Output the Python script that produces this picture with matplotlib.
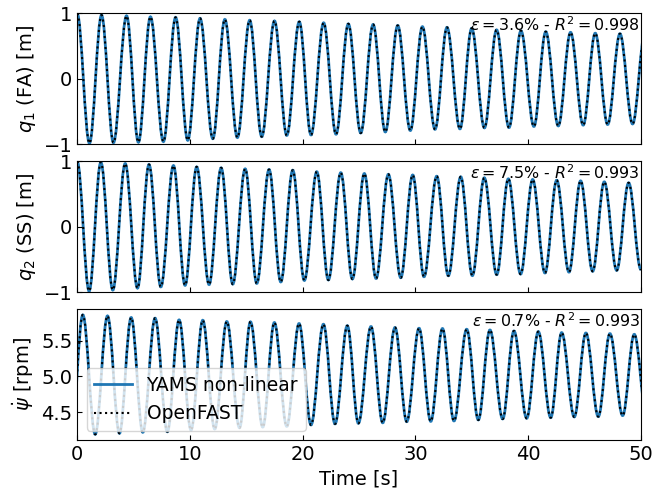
import matplotlib
matplotlib.use('Agg')
import matplotlib.pyplot as plt
from matplotlib.path import Path
from matplotlib.patches import PathPatch
from matplotlib.lines import Line2D

plt.rcParams.update({
    'font.size': 14,
    'xtick.direction': 'in',
    'ytick.direction': 'in',
})

# extrema (time [s], value)
q1_peak_t = [0.0, 2.16, 4.38, 6.5, 8.73, 10.9, 13.1, 15.3, 17.5, 19.7, 21.86, 24.05,
             26.25, 28.43, 30.62, 32.8, 34.99, 37.2, 39.36, 41.56, 43.76, 45.95, 48.14, 50.35]
q1_peak_v = [1.0, 0.974, 0.963, 0.948, 0.939, 0.924, 0.908, 0.895, 0.885, 0.872, 0.856, 0.84,
             0.83, 0.815, 0.797, 0.786, 0.771, 0.748, 0.734, 0.72, 0.71, 0.697, 0.689, 0.685]
q1_trough_t = [1.09, 3.22, 5.43, 7.65, 9.81, 12.03, 14.21, 16.37, 18.59, 20.74, 22.96, 25.15,
               27.33, 29.55, 31.74, 33.95, 36.12, 38.3, 40.51, 42.67, 44.88, 47.05, 49.26]
q1_trough_v = [-0.985, -0.976, -0.97, -0.96, -0.94, -0.915, -0.898, -0.884, -0.865, -0.858, -0.847, -0.828,
               -0.812, -0.79, -0.772, -0.765, -0.75, -0.745, -0.728, -0.72, -0.708, -0.698, -0.69]

q2_peak_t = [0.0, 2.1, 4.26, 6.37, 8.54, 10.6, 12.77, 14.9, 17.02, 19.12, 21.25, 23.38,
             25.47, 27.6, 29.76, 31.89, 34.02, 36.11, 38.24, 40.4, 42.53, 44.65, 46.75, 48.91]
q2_peak_v = [1.0, 0.985, 0.965, 0.95, 0.934, 0.914, 0.899, 0.884, 0.873, 0.863, 0.84, 0.825,
             0.812, 0.8, 0.79, 0.771, 0.762, 0.747, 0.731, 0.721, 0.71, 0.7, 0.685, 0.67]
q2_trough_t = [1.06, 3.16, 5.35, 7.42, 9.57, 11.7, 13.8, 15.93, 18.06, 20.15, 22.28, 24.41,
               26.51, 28.7, 30.76, 32.92, 35.05, 37.21, 39.33, 41.49, 43.62, 45.72, 47.85, 50.0]
q2_trough_v = [-0.985, -0.969, -0.94, -0.92, -0.897, -0.885, -0.878, -0.867, -0.845, -0.822, -0.815, -0.8,
               -0.792, -0.78, -0.765, -0.75, -0.748, -0.733, -0.725, -0.708, -0.695, -0.682, -0.668, -0.655]

rpm_peak_t = [0.5, 2.69, 4.79, 6.91, 9.04, 11.14, 13.27, 15.37, 17.49, 19.68, 21.84, 23.96,
              26.06, 28.19, 30.32, 32.4, 34.55, 36.61, 38.74, 40.9, 42.97, 45.12, 47.25, 49.41]
rpm_peak_v = [5.859, 5.845, 5.822, 5.813, 5.789, 5.784, 5.766, 5.762, 5.752, 5.738, 5.728, 5.708,
              5.696, 5.682, 5.672, 5.668, 5.658, 5.648, 5.634, 5.625, 5.611, 5.606, 5.597, 5.587]
rpm_trough_t = [-0.53, 1.6, 3.75, 5.82, 8.0, 10.1, 12.2, 14.4, 16.46, 18.59, 20.74, 22.87, 24.94,
                27.1, 29.23, 31.36, 33.42, 35.58, 37.74, 39.87, 42.0, 44.09, 46.22, 48.38, 50.5]
rpm_trough_v = [4.15, 4.189, 4.203, 4.217, 4.225, 4.249, 4.263, 4.28, 4.29, 4.3, 4.32, 4.335, 4.343,
                4.35, 4.366, 4.37, 4.376, 4.39, 4.404, 4.413, 4.422, 4.432, 4.437, 4.451, 4.46]

ylabels = ['$q_1$ (FA) [m]', '$q_2$ (SS) [m]', r'$\dot{\psi}$ [rpm]']
scores = [r'$\epsilon=3.6\%$ - $R^2=0.998$',
          r'$\epsilon=7.5\%$ - $R^2=0.993$',
          r'$\epsilon=0.7\%$ - $R^2=0.993$']


def wave(peak_t, peak_v, trough_t, trough_v):
    pts = sorted(zip(peak_t + trough_t, peak_v + trough_v))
    verts = [pts[0]]
    codes = [Path.MOVETO]
    for (t0, v0), (t1, v1) in zip(pts[:-1], pts[1:]):
        d = (t1 - t0) * 0.3634
        verts += [(t0 + d, v0), (t1 - d, v1), (t1, v1)]
        codes += [Path.CURVE4] * 3
    return Path(verts, codes)


signals = [
    (q1_peak_t, q1_peak_v, q1_trough_t, q1_trough_v),
    (q2_peak_t, q2_peak_v, q2_trough_t, q2_trough_v),
    (rpm_peak_t, rpm_peak_v, rpm_trough_t, rpm_trough_v),
]
ylims = [(-1, 1), (-1, 1), (4.11, 5.94)]

fig, axes = plt.subplots(3, 1, sharex=True, figsize=(6.54, 4.96), dpi=100)
fig.subplots_adjust(left=0.118, right=0.98, top=0.973, bottom=0.113, hspace=0.13)

for ax, sig, yl, lab, sc in zip(axes, signals, ylims, ylabels, scores):
    p = wave(*sig)
    # YAMS non-linear
    ax.add_patch(PathPatch(p, facecolor='none', edgecolor='#1f77b4', lw=2.0))
    # OpenFAST (overlapping)
    ax.add_patch(PathPatch(p, facecolor='none', edgecolor='k', lw=1.5, ls=':'))
    ax.set_xlim(0, 50)
    ax.set_ylim(*yl)
    ax.set_ylabel(lab)
    ax.text(0.998, 0.985, sc, transform=ax.transAxes, ha='right', va='top', fontsize=11.4)

axes[0].set_yticks([-1, 0, 1])
axes[1].set_yticks([-1, 0, 1])
axes[2].set_yticks([4.5, 5.0, 5.5])
axes[2].set_xticks([0, 10, 20, 30, 40, 50])
axes[2].set_xlabel('Time [s]')

handles = [Line2D([], [], color='#1f77b4', lw=2.0), Line2D([], [], color='k', lw=1.5, ls=':')]
axes[2].legend(handles, ['YAMS non-linear', 'OpenFAST'], loc='lower left', fontsize=13.5)

fig.savefig('out.png')
